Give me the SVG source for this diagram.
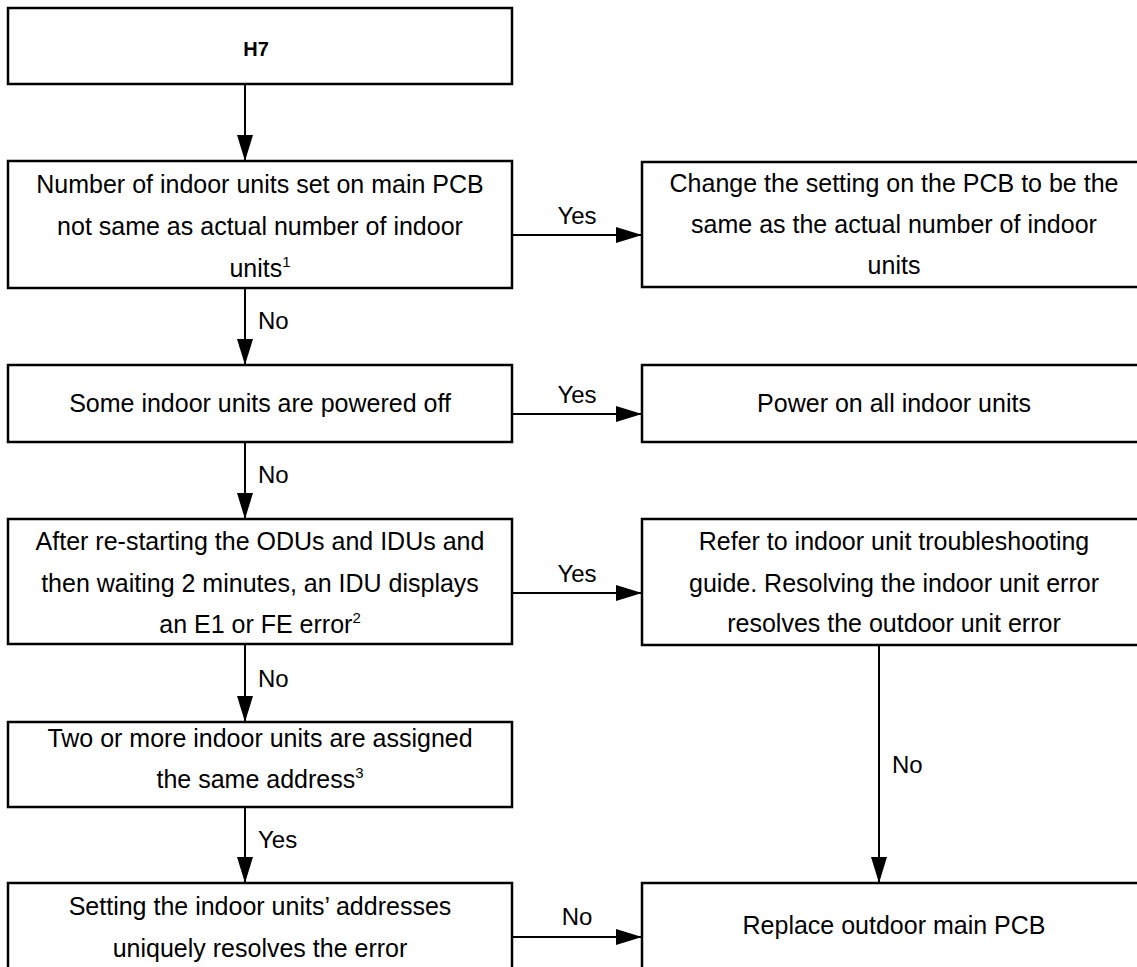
<svg xmlns="http://www.w3.org/2000/svg" width="1137" height="967" viewBox="0 0 1137 967">
<style>
.box{fill:#fff;stroke:#000;stroke-width:2.5}
.t{font-family:"Liberation Sans",Arial,sans-serif;font-size:25px;fill:#000;text-anchor:middle}
.b{font-weight:bold;font-size:20px}
.lbl{font-family:"Liberation Sans",Arial,sans-serif;font-size:24px;fill:#000}
.c{text-anchor:middle}
.sup{font-size:15px}
.ln{stroke:#000;stroke-width:2;fill:none}
</style>
<defs>
<marker id="ah" viewBox="0 0 26 16" refX="26" refY="8" markerWidth="26" markerHeight="16" markerUnits="userSpaceOnUse" orient="auto">
<path d="M0,0 L26,8 L0,16 Z" fill="#000"/>
</marker>
</defs>
<rect width="1137" height="967" fill="#fff"/>
<g id="connectors">
<line class="ln" x1="245" y1="84" x2="245" y2="161" marker-end="url(#ah)"/>
<line class="ln" x1="512" y1="235" x2="642" y2="235" marker-end="url(#ah)"/>
<text class="lbl c" x="577" y="224">Yes</text>
<line class="ln" x1="245" y1="288" x2="245" y2="365" marker-end="url(#ah)"/>
<text class="lbl" x="258" y="329">No</text>
<line class="ln" x1="512" y1="414" x2="642" y2="414" marker-end="url(#ah)"/>
<text class="lbl c" x="577" y="403">Yes</text>
<line class="ln" x1="245" y1="442" x2="245" y2="519" marker-end="url(#ah)"/>
<text class="lbl" x="258" y="483">No</text>
<line class="ln" x1="512" y1="593" x2="642" y2="593" marker-end="url(#ah)"/>
<text class="lbl c" x="577" y="582">Yes</text>
<line class="ln" x1="245" y1="644" x2="245" y2="722" marker-end="url(#ah)"/>
<text class="lbl" x="258" y="687">No</text>
<line class="ln" x1="879" y1="645" x2="879" y2="883" marker-end="url(#ah)"/>
<text class="lbl" x="892" y="773">No</text>
<line class="ln" x1="245" y1="807" x2="245" y2="883" marker-end="url(#ah)"/>
<text class="lbl" x="258" y="848">Yes</text>
<line class="ln" x1="512" y1="937" x2="642" y2="937" marker-end="url(#ah)"/>
<text class="lbl c" x="577" y="925">No</text>
</g>
<g id="n-h7">
<rect class="box" x="8" y="8" width="504" height="76"/>
<text class="t b" x="256" y="56">H7</text>
</g>
<g id="n-count">
<rect class="box" x="8" y="161" width="504" height="127"/>
<text class="t" x="260" y="193">Number of indoor units set on main PCB</text>
<text class="t" x="260" y="235">not same as actual number of indoor</text>
<text class="t" x="260" y="277">units<tspan class="sup" dy="-10">1</tspan></text>
</g>
<g id="n-change">
<rect class="box" x="642" y="162" width="504" height="125"/>
<text class="t" x="894" y="192">Change the setting on the PCB to be the</text>
<text class="t" x="894" y="233">same as the actual number of indoor</text>
<text class="t" x="894" y="274">units</text>
</g>
<g id="n-power">
<rect class="box" x="8" y="365" width="504" height="77"/>
<text class="t" x="260" y="412">Some indoor units are powered off</text>
</g>
<g id="n-poweron">
<rect class="box" x="642" y="365" width="504" height="77"/>
<text class="t" x="894" y="412">Power on all indoor units</text>
</g>
<g id="n-restart">
<rect class="box" x="8" y="519" width="504" height="125"/>
<text class="t" x="260" y="550">After re-starting the ODUs and IDUs and</text>
<text class="t" x="260" y="592">then waiting 2 minutes, an IDU displays</text>
<text class="t" x="260" y="633">an E1 or FE error<tspan class="sup" dy="-10">2</tspan></text>
</g>
<g id="n-refer">
<rect class="box" x="642" y="519" width="504" height="126"/>
<text class="t" x="894" y="550">Refer to indoor unit troubleshooting</text>
<text class="t" x="894" y="592">guide. Resolving the indoor unit error</text>
<text class="t" x="894" y="632">resolves the outdoor unit error</text>
</g>
<g id="n-address">
<rect class="box" x="8" y="722" width="504" height="85"/>
<text class="t" x="260" y="747">Two or more indoor units are assigned</text>
<text class="t" x="260" y="788">the same address<tspan class="sup" dy="-10">3</tspan></text>
</g>
<g id="n-setting">
<rect class="box" x="8" y="883" width="504" height="100"/>
<text class="t" x="260" y="915">Setting the indoor units’ addresses</text>
<text class="t" x="260" y="957">uniquely resolves the error</text>
</g>
<g id="n-replace">
<rect class="box" x="642" y="883" width="504" height="100"/>
<text class="t" x="894" y="934">Replace outdoor main PCB</text>
</g>
</svg>
